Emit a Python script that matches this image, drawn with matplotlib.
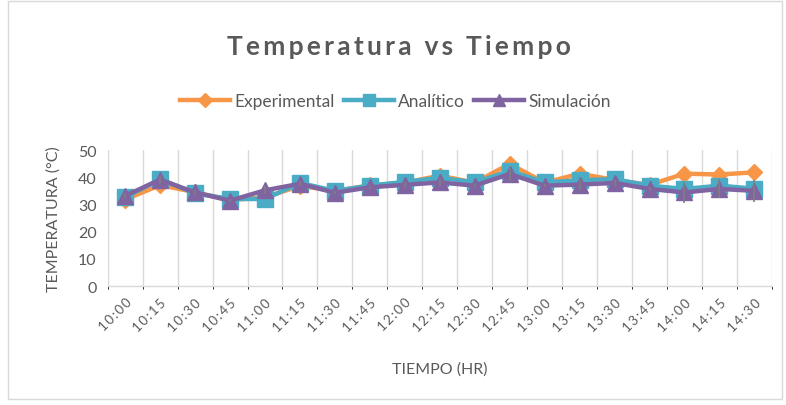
import matplotlib
matplotlib.use("Agg")
import matplotlib.pyplot as plt
from matplotlib.patches import Rectangle
import numpy as np

plt.rcParams['font.family'] = ['Lato', 'DejaVu Sans']

horas = ["10:00", "10:15", "10:30", "10:45", "11:00", "11:15", "11:30", "11:45",
         "12:00", "12:15", "12:30", "12:45", "13:00", "13:15", "13:30", "13:45",
         "14:00", "14:15", "14:30"]
experimental = [31.8, 37.1, 34.5, 31.6, 32.6, 36.8, 35.0, 37.0, 38.0, 40.6,
                38.0, 44.9, 38.0, 41.3, 39.0, 37.2, 41.3, 41.0, 41.8]
analitico = [32.6, 39.3, 34.1, 32.0, 32.0, 37.9, 35.0, 36.9, 38.3, 39.8,
             38.1, 42.3, 38.1, 38.9, 39.3, 36.9, 35.7, 36.9, 35.8]
simulacion = [33.2, 39.1, 34.4, 31.4, 35.2, 37.6, 34.3, 36.3, 37.2, 38.1,
              36.9, 41.2, 36.9, 37.3, 37.9, 35.7, 34.4, 35.7, 35.0]
error_sim = [1.0, 1.5, 1.0, 0.6, 1.5, 1.0, 0.6, 0.6, 1.0, 1.5,
             0.6, 2.5, 0.6, 2.0, 1.0, 0.6, 4.0, 3.5, 4.0]

C_EXP = "#F79646"
C_ANA = "#4BACC6"
C_SIM = "#8064A2"
TXT = "#595959"


def spaced(s, gap):
    return gap.join(s)


fig = plt.figure(figsize=(7.86, 4.06), dpi=100)
fig.patches.append(Rectangle((0.010, 0.015), 0.985, 0.98, transform=fig.transFigure,
                             fill=False, edgecolor="#D9D9D9", linewidth=1.0))

ax = fig.add_axes([0.137, 0.293, 0.845, 0.335])
x = np.arange(len(horas))

ax.plot(x, experimental, color=C_EXP, lw=3.2, marker="D", ms=8.5,
        label="Experimental", zorder=3)
ax.plot(x, analitico, color=C_ANA, lw=3.2, marker="s", ms=11,
        label="Analítico", zorder=4)
ax.plot(x, simulacion, color=C_SIM, lw=3.2, marker="^", ms=11.5,
        label="Simulación", zorder=5)
ax.errorbar(x, simulacion, yerr=error_sim, fmt="none", ecolor="#7F7F7F",
            elinewidth=1.2, capsize=0, zorder=6)

ax.set_xlim(-0.5, len(horas) - 0.5)
ax.set_ylim(0, 50)
ax.set_yticks([0, 10, 20, 30, 40, 50])
ax.set_xticks(x)
ax.set_xticklabels([spaced(h, "\u2009") for h in horas], rotation=45, ha="right",
                   rotation_mode="anchor", fontsize=9.5, color=TXT)
for lab in ax.get_xticklabels():
    lab.set_family(["Lato", "DejaVu Sans"])
ax.tick_params(axis="y", labelsize=11.5, labelcolor=TXT, length=0, pad=8)
ax.tick_params(axis="x", length=0, pad=7)

ax.set_xticks(np.arange(-0.5, len(horas) + 0.5, 1), minor=True)
ax.grid(True, which="minor", axis="x", color="#D9D9D9", lw=1.0)
ax.grid(False, which="major")
for s in ["top", "right", "left"]:
    ax.spines[s].set_visible(False)
ax.spines["bottom"].set_color("#D9D9D9")
ax.spines["bottom"].set_linewidth(1.0)

ax.set_ylabel("TEMPERATURA (°C)", fontsize=11.5, color=TXT, labelpad=12)
ax.set_xlabel("TIEMPO (HR)", fontsize=11.5, color=TXT, labelpad=20)

fig.text(0.508, 0.885, spaced("Temperatura vs Tiempo", "\u2009"), ha="center",
         va="center", fontsize=19, fontweight="bold", color=TXT)

leg = fig.legend(loc="center", bbox_to_anchor=(0.503, 0.748), ncol=3, frameon=False,
                 fontsize=12.5, handlelength=2.9, columnspacing=0.5, handletextpad=0.25,
                 markerscale=0.8)
for t in leg.get_texts():
    t.set_color(TXT)

fig.savefig("out.png", dpi=100)
